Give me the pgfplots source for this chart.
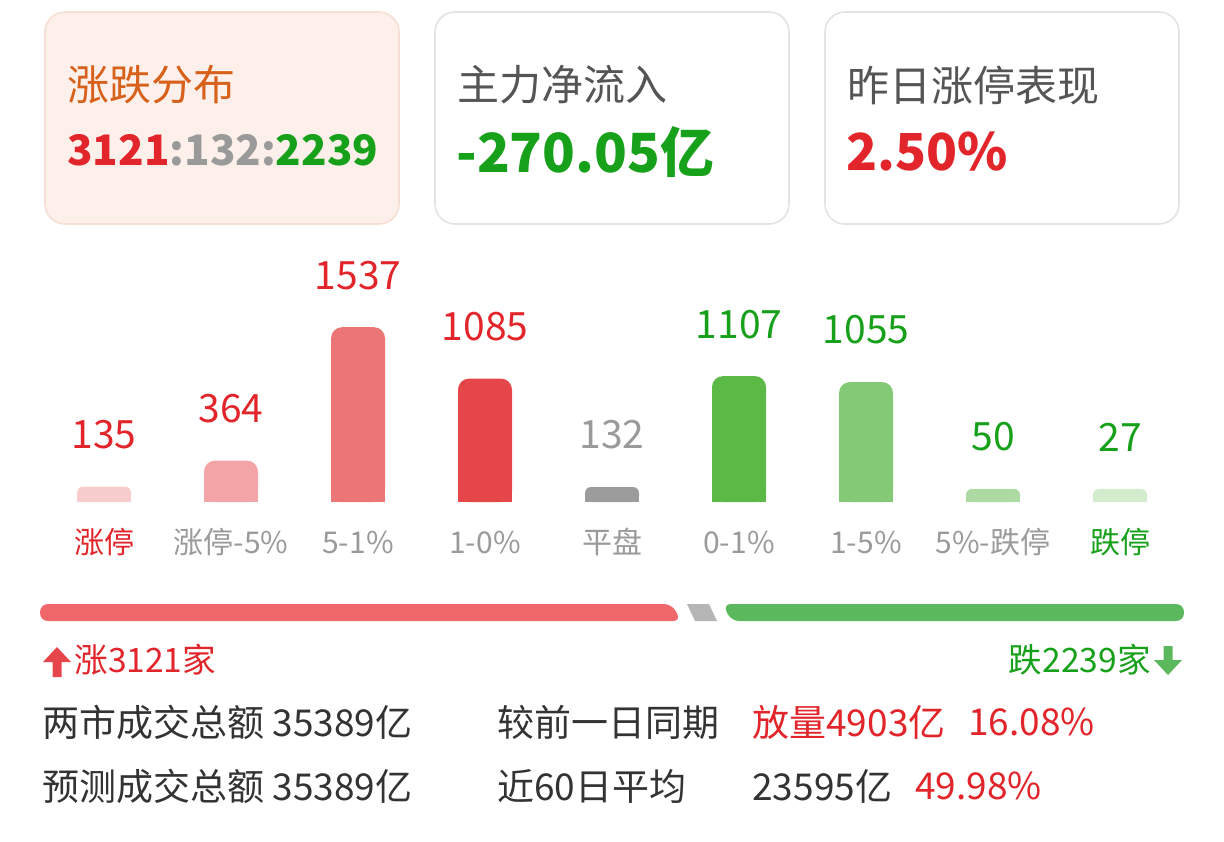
\documentclass[border=0pt]{standalone}
\usepackage{fontspec}
\setmainfont{Noto Sans CJK SC}
\usepackage{pgfplots}
\pgfplotsset{compat=1.18}
\definecolor{upred}{HTML}{E2252B}
\definecolor{dngreen}{HTML}{17A01A}
\definecolor{midgray}{HTML}{9A9A9A}
\definecolor{dark}{HTML}{333333}
\definecolor{title}{HTML}{555555}
\definecolor{orangett}{HTML}{D7601A}
\definecolor{cardA}{HTML}{FDF0EA}
\definecolor{cardAb}{HTML}{F6DFD4}
\definecolor{cardb}{HTML}{E3E3E3}
\definecolor{b1}{HTML}{F8CDCD}
\definecolor{b2}{HTML}{F2A4A6}
\definecolor{b3}{HTML}{EC7676}
\definecolor{b4}{HTML}{E54649}
\definecolor{b5}{HTML}{9C9C9C}
\definecolor{b6}{HTML}{5BB946}
\definecolor{b7}{HTML}{84CA76}
\definecolor{b8}{HTML}{ADD9A3}
\definecolor{b9}{HTML}{D4ECCE}
\definecolor{pred}{HTML}{F0676A}
\definecolor{pgray}{HTML}{B5B5B5}
\definecolor{pgreen}{HTML}{5CB85C}
\newcommand{\fs}[1]{\fontsize{#1}{#1}\selectfont}
\begin{document}
\begin{tikzpicture}
\begin{scope}[x=0.5pt,y=-0.5pt]
\path[use as bounding box] (0,0) rectangle (1224,841);
% cards
\draw[cardAb, fill=cardA, line width=0.8pt, rounded corners=10pt] (45,12) rectangle (399,224);
\draw[cardb, fill=white, line width=0.8pt, rounded corners=10pt] (435,12) rectangle (789,224);
\draw[cardb, fill=white, line width=0.8pt, rounded corners=10pt] (825,12) rectangle (1179,224);
\node[anchor=west, inner sep=0, text=orangett, font=\fs{21}] at (67,85) {涨跌分布};
\node[anchor=west, inner sep=0, font=\fs{21}\bfseries] at (67,150) {\textcolor{upred}{3121}\textcolor{midgray}{:132:}\textcolor{dngreen}{2239}};
\node[anchor=west, inner sep=0, text=title, font=\fs{21}] at (457,85) {主力净流入};
\node[anchor=west, inner sep=0, text=dngreen, font=\fs{27}\bfseries] at (456,152) {-270.05亿};
\node[anchor=west, inner sep=0, text=title, font=\fs{21}] at (847,85) {昨日涨停表现};
\node[anchor=west, inner sep=0, text=upred, font=\fs{25.5}\bfseries] at (846,152) {2.50\%};
% progress bar
\fill[pred, rounded corners=4pt] (40,604) -- (672,604) -- (681,621) -- (40,621) -- cycle;
\fill[pgray] (687,604) -- (709,604) -- (717,621) -- (695,621) -- cycle;
\fill[pgreen, rounded corners=4pt] (723,604) -- (1184,604) -- (1184,621) -- (731,621) -- cycle;
% arrows
\fill[upred!85] (43,662) -- (57,647) -- (71,662) -- (61.5,662) -- (61.5,677) -- (52.5,677) -- (52.5,662) -- cycle;
\fill[pgreen] (1154,660) -- (1168,675) -- (1182,660) -- (1172.5,660) -- (1172.5,646) -- (1163.5,646) -- (1163.5,660) -- cycle;
\node[anchor=west, inner sep=0, text=upred, font=\fs{16.8}] at (74,660) {涨3121家};
\node[anchor=east, inner sep=0, text=dngreen, font=\fs{16.8}] at (1151,660) {跌2239家};
% bottom rows
\node[anchor=west, inner sep=0, text=dark, font=\fs{18.5}] at (42,722) {两市成交总额 35389亿};
\node[anchor=west, inner sep=0, text=dark, font=\fs{18.5}] at (497,722) {较前一日同期};
\node[anchor=west, inner sep=0, text=upred, font=\fs{18.5}] at (752,722) {放量4903亿};
\node[anchor=west, inner sep=0, text=upred, font=\fs{18.5}] at (968,722) {16.08\%};
\node[anchor=west, inner sep=0, text=dark, font=\fs{18.5}] at (42,786) {预测成交总额 35389亿};
\node[anchor=west, inner sep=0, text=dark, font=\fs{18.5}] at (497,786) {近60日平均};
\node[anchor=west, inner sep=0, text=dark, font=\fs{18.5}] at (752,786) {23595亿};
\node[anchor=west, inner sep=0, text=upred, font=\fs{18.5}] at (915,786) {49.98\%};
\end{scope}
% bar chart
\begin{axis}[at={(20.25pt,-251pt)}, anchor=south west, scale only axis,
  width=571.5pt, height=131pt,
  xmin=-0.5, xmax=8.5, ymin=0, ymax=2304,
  axis line style={draw=none}, ytick=\empty, major tick length=0pt,
  xtick={0,...,8},
  xticklabels={\textcolor{upred}{涨停},涨停-5\%,5-1\%,1-0\%,平盘,0-1\%,1-5\%,5\%-跌停,\textcolor{dngreen}{跌停}},
  xticklabel style={anchor=center, yshift=-20pt, font=\fs{15}, text=midgray},
  ybar, bar width=27pt, bar shift=0pt,
  lab/.style={nodes near coords, point meta=explicit symbolic,
    every node near coord/.append style={anchor=center, yshift=26pt, font=\fs{19.5}, text=#1}},
  every axis plot/.append style={draw=none}]
% rounded-top bars (value labels)
\addplot[fill=b1, rounded corners=3pt, lab=upred] coordinates {(0,135) [135]};
\addplot[fill=b2, rounded corners=5.5pt, lab=upred] coordinates {(1,364) [364]};
\addplot[fill=b3, rounded corners=5.5pt, lab=upred] coordinates {(2,1537) [1537]};
\addplot[fill=b4, rounded corners=5.5pt, lab=upred] coordinates {(3,1085) [1085]};
\addplot[fill=b5, rounded corners=3pt, lab=midgray] coordinates {(4,132) [132]};
\addplot[fill=b6, rounded corners=5.5pt, lab=dngreen] coordinates {(5,1107) [1107]};
\addplot[fill=b7, rounded corners=5.5pt, lab=dngreen] coordinates {(6,1055) [1055]};
\addplot[fill=b8, rounded corners=3pt, lab=dngreen] coordinates {(7,115) [50]};
\addplot[fill=b9, rounded corners=3pt, lab=dngreen] coordinates {(8,115) [27]};
% square lower parts (flat bar bottoms)
\addplot[fill=b1] coordinates {(0,75)};
\addplot[fill=b2] coordinates {(1,264)};
\addplot[fill=b3] coordinates {(2,1437)};
\addplot[fill=b4] coordinates {(3,985)};
\addplot[fill=b5] coordinates {(4,72)};
\addplot[fill=b6] coordinates {(5,1007)};
\addplot[fill=b7] coordinates {(6,955)};
\addplot[fill=b8] coordinates {(7,55)};
\addplot[fill=b9] coordinates {(8,55)};
\end{axis}
\end{tikzpicture}
\end{document}
